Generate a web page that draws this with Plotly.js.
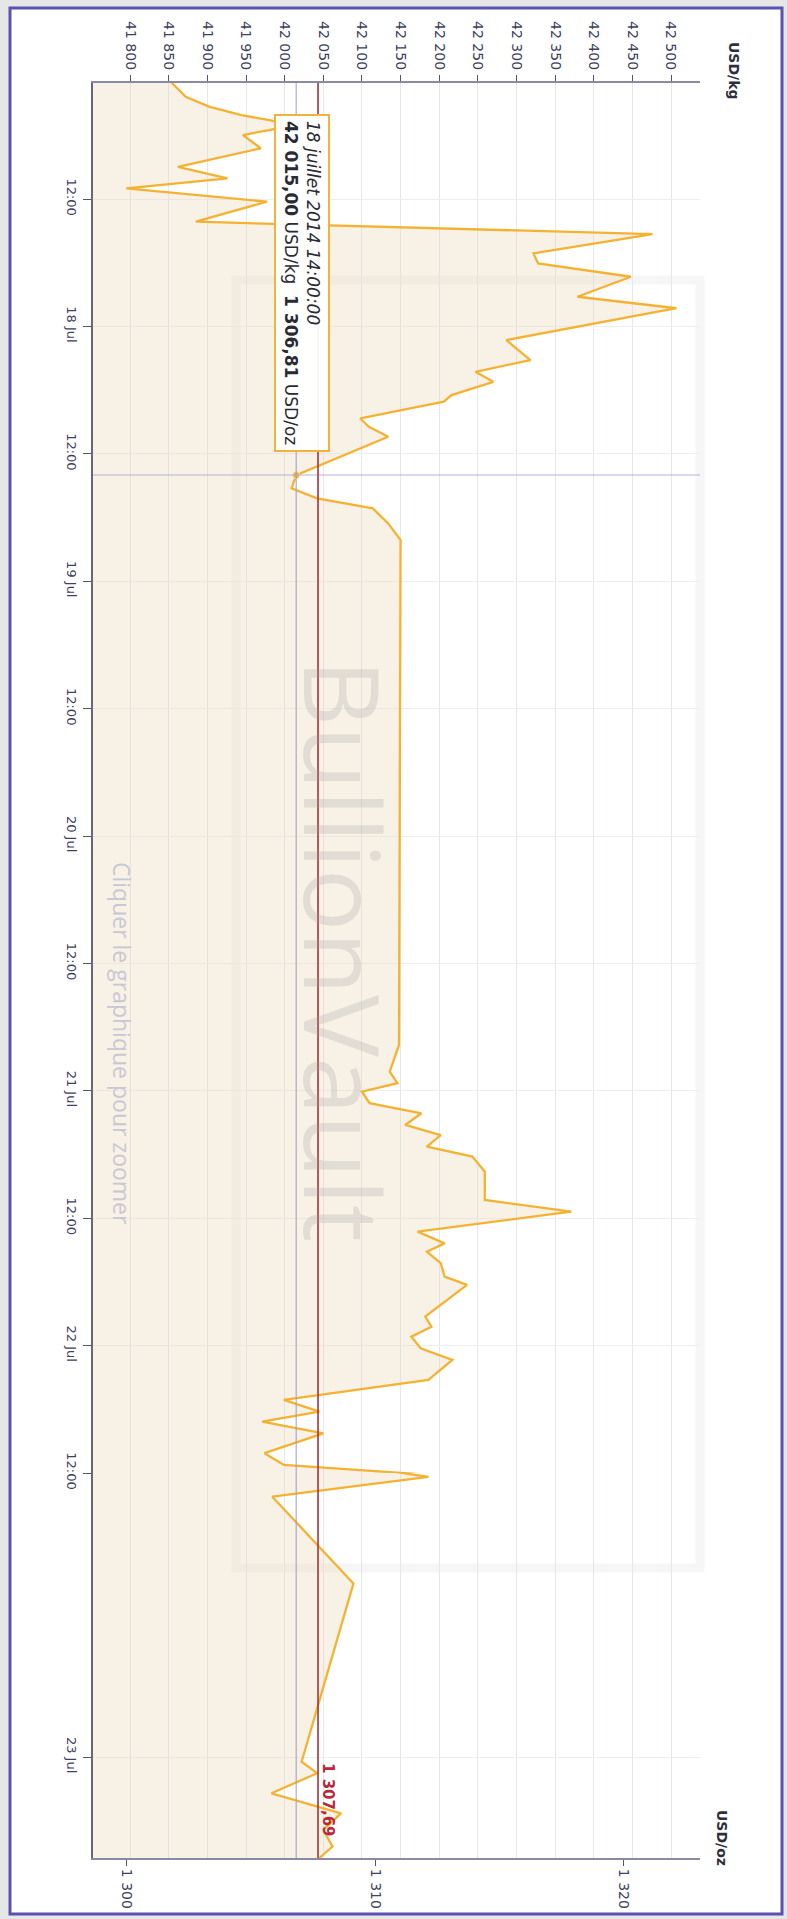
<!DOCTYPE html>
<html><head><meta charset="utf-8">
<script src="https://cdn.plot.ly/plotly-3.0.1.min.js"></script>
<style>html,body{margin:0;padding:0;background:#e6e6e6;} #chart{width:787px;height:1919px;}</style>
</head><body><div id="chart"></div>
<script>
// ---- data ----
const times = [
'2014-07-17 01:03','2014-07-17 02:22','2014-07-17 03:19','2014-07-17 04:05','2014-07-17 04:34','2014-07-17 05:02',
'2014-07-17 05:30','2014-07-17 05:58','2014-07-17 07:13','2014-07-17 08:58','2014-07-17 10:03','2014-07-17 10:59',
'2014-07-17 12:15','2014-07-17 14:08','2014-07-17 15:18','2014-07-17 17:07','2014-07-17 18:04','2014-07-17 19:19',
'2014-07-17 21:12','2014-07-17 22:17','2014-07-18 01:17','2014-07-18 03:10','2014-07-18 04:16','2014-07-18 05:13',
'2014-07-18 06:28','2014-07-18 07:05','2014-07-18 08:40','2014-07-18 09:27','2014-07-18 10:23','2014-07-18 14:00',
'2014-07-18 15:15','2014-07-18 16:11','2014-07-18 17:08','2014-07-18 18:33','2014-07-18 20:07','2014-07-20 19:41',
'2014-07-20 22:12','2014-07-20 23:17','2014-07-21 00:05','2014-07-21 01:10','2014-07-21 02:07','2014-07-21 03:13',
'2014-07-21 04:10','2014-07-21 05:16','2014-07-21 06:12','2014-07-21 07:37','2014-07-21 10:17','2014-07-21 11:23',
'2014-07-21 13:16','2014-07-21 14:22','2014-07-21 15:09','2014-07-21 16:14','2014-07-21 17:30','2014-07-21 18:17',
'2014-07-21 21:16','2014-07-21 22:13','2014-07-21 23:10','2014-07-22 00:15','2014-07-22 01:21','2014-07-22 03:14',
'2014-07-22 05:07','2014-07-22 06:13','2014-07-22 07:10','2014-07-22 08:16','2014-07-22 10:08','2014-07-22 11:14',
'2014-07-22 12:10','2014-07-22 13:00','2014-07-22 16:40','2014-07-23 00:12','2014-07-23 00:41','2014-07-23 01:32',
'2014-07-23 02:23','2014-07-23 03:05','2014-07-23 03:47','2014-07-23 04:16'
];
const pricesKg = [
41854,41872,41903,41944,41980,42010,
41980,41946,41969,41862,41926,41795,
41977,41885,42476,42322,42328,42448,
42379,42507,42287,42318,42247,42270,
42216,42206,42098,42109,42134,42015,
42009,42042,42114,42134,42150,42148,
42136,42146,42100,42110,42177,42156,
42202,42184,42243,42259,42259,42371,
42172,42207,42184,42202,42207,42236,
42182,42190,42164,42176,42217,42186,
41999,42045,41971,42050,41974,41999,
42186,41984,42089,42022,42042,41983,
42073,42050,42062,42045
];
const dayTickVals = ['2014-07-17 12:00','2014-07-18 00:00','2014-07-18 12:00','2014-07-19 00:00','2014-07-19 12:00',
  '2014-07-20 00:00','2014-07-20 12:00','2014-07-21 00:00','2014-07-21 12:00','2014-07-22 00:00','2014-07-22 12:00'];
const dayTickText = ['12:00','18 Jul','12:00','19 Jul','12:00','20 Jul','12:00','21 Jul','12:00','22 Jul','12:00'];
const lateTickVals = ['2014-07-23 00:00'];
const lateTickText = ['23 Jul'];
const ozPerKg = 32.1507466;
const currentOz = 1307.69;
const hoverTime = '2014-07-18 14:00';
const hoverKg = 42015.00;
const hoverOz = 1306.81;
const hoverLabel = '18 juillet 2014 14:00:00';
const splitTime = '2014-07-22 12:00';
const startTime = '2014-07-17 01:04';
const endTime = '2014-07-23 04:16';
const kgRange = [41752, 42537.5];

// ---- geometry ----
const W = 787, H = 1919, L = 93, R = 87, T = 83, B = 61;
const pw = W - L - R, ph = H - T - B;
const px = v => (v - L) / pw;
const py = v => (H - B - v) / ph;
const split = py(1473);

// split series into the two time scales
let firstAfter = times.findIndex(t => t > splitTime);
const upT = times.slice(0, firstAfter + 1), upV = pricesKg.slice(0, firstAfter + 1);
const loT = times.slice(firstAfter - 1), loV = pricesKg.slice(firstAfter - 1);

function fr(v, dec) {
  const parts = v.toFixed(dec).split('.');
  const ip = parts[0].replace(/\B(?=(\d{3})+(?!\d))/g, '\u00a0');
  return parts.length > 1 ? ip + ',' + parts[1] : ip;
}

const lineStyle = {color: '#f5b232', width: 2.3};
const fillCol = 'rgba(236,214,184,0.35)';
const traces = [
  {x: upV, y: upT, xaxis: 'x', yaxis: 'y', mode: 'lines', line: lineStyle, fill: 'tozerox', fillcolor: fillCol, hoverinfo: 'skip'},
  {x: loV, y: loT, xaxis: 'x', yaxis: 'y2', mode: 'lines', line: lineStyle, fill: 'tozerox', fillcolor: fillCol, hoverinfo: 'skip'},
  {x: [hoverOz], y: [hoverTime], xaxis: 'x2', yaxis: 'y', mode: 'markers',
   marker: {size: 7, color: '#f4b02c', line: {color: '#fbe3b0', width: 1}}, hoverinfo: 'skip'}
];

const tickFont = {family: 'DejaVu Sans', size: 14, color: '#40405e'};
const common = {showline: true, linewidth: 2, zeroline: false, fixedrange: true, ticks: 'outside', tickcolor: '#555566', tickfont: tickFont};

const center = {xanchor: 'center', yanchor: 'middle', showarrow: false, xref: 'paper', yref: 'paper', textangle: 90};
const ann = o => Object.assign({}, center, o);

const layout = {
  width: W, height: H,
  margin: {l: L, r: R, t: T, b: B},
  paper_bgcolor: '#e6e6e6', plot_bgcolor: 'rgba(0,0,0,0)',
  separators: ', ',
  showlegend: false,
  xaxis: Object.assign({}, common, {range: kgRange, side: 'top', anchor: 'y', dtick: 50, tick0: 41800,
    tickformat: ',.0f', separatethousands: true, tickangle: 90, ticklen: 6, linecolor: '#8a8aa6',
    showgrid: true, gridcolor: '#e4e6f1', gridwidth: 1}),
  xaxis2: Object.assign({}, common, {range: kgRange.map(v => v / ozPerKg), overlaying: 'x', side: 'bottom', anchor: 'y2',
    dtick: 10, tick0: 1300, tickformat: ',.0f', separatethousands: true, tickangle: 90, ticklen: 6, linecolor: '#8a8aa6', showgrid: false}),
  yaxis: Object.assign({}, common, {type: 'date', domain: [split, 1], range: [splitTime, startTime], anchor: 'x',
    tickvals: dayTickVals, ticktext: dayTickText, tickangle: 90, ticklen: 8, linecolor: '#66667e',
    showgrid: true, gridcolor: '#eceef6', tickfont: Object.assign({}, tickFont, {size: 13})}),
  yaxis2: Object.assign({}, common, {type: 'date', domain: [0, split], range: [endTime, splitTime], anchor: 'x',
    tickvals: lateTickVals, ticktext: lateTickText, tickangle: 90, ticklen: 8, linecolor: '#66667e',
    showgrid: true, gridcolor: '#eceef6', tickfont: Object.assign({}, tickFont, {size: 13})}),
  shapes: [
    {type: 'rect', xref: 'paper', yref: 'paper', x0: px(10), x1: px(782), y0: py(1914), y1: py(8),
     fillcolor: '#ffffff', line: {color: '#5b50b4', width: 3}, layer: 'below'},
    {type: 'rect', xref: 'paper', yref: 'paper', x0: px(236), x1: px(700), y0: py(1568), y1: py(280),
     line: {color: 'rgba(150,150,150,0.09)', width: 9}, layer: 'below'},
    {type: 'line', xref: 'x2', yref: 'paper', x0: hoverOz, x1: hoverOz, y0: 0, y1: 1,
     line: {color: '#9c9cc0', width: 1}},
    {type: 'line', xref: 'paper', yref: 'y', x0: 0, x1: 1, y0: hoverTime, y1: hoverTime,
     line: {color: 'rgba(170,170,210,0.6)', width: 1.5}},
    {type: 'line', xref: 'x2', yref: 'paper', x0: currentOz, x1: currentOz, y0: 0, y1: 1,
     line: {color: '#a8323a', width: 1.6}}
  ],
  annotations: [
    ann({x: px(345), y: py(950), text: 'BullionVault', font: {family: 'Open Sans', size: 104, color: 'rgba(150,150,150,0.22)'}}),
    ann({x: px(122), y: py(1043), text: 'Cliquer le graphique pour zoomer', font: {family: 'Open Sans', size: 23, color: '#c8c8d4'}}),
    ann({x: px(734), y: py(71), text: '<b>USD/kg</b>', font: {family: 'DejaVu Sans', size: 14, color: '#2e2e40'}}),
    ann({x: px(722), y: py(1838), text: '<b>USD/oz</b>', font: {family: 'DejaVu Sans', size: 14, color: '#2e2e40'}}),
    ann({x: px(328), y: py(1800), text: '<b>' + fr(currentOz, 2) + '</b>', font: {family: 'DejaVu Sans', size: 15, color: '#b8283a'}}),
    ann({x: px(302), y: py(283),
     text: '<i>' + hoverLabel + '</i><br><b>' + fr(hoverKg, 2) + '</b> USD/kg\u00a0\u00a0<b>' + fr(hoverOz, 2) + '</b> USD/oz',
     align: 'left', bgcolor: 'rgba(255,255,255,0.95)', bordercolor: '#f2b33d', borderwidth: 2, borderpad: 5,
     font: {family: 'DejaVu Sans', size: 17, color: '#2a2a35'}})
  ]
};

Plotly.newPlot('chart', traces, layout, {staticPlot: true, displayModeBar: false});
</script>
</body></html>
